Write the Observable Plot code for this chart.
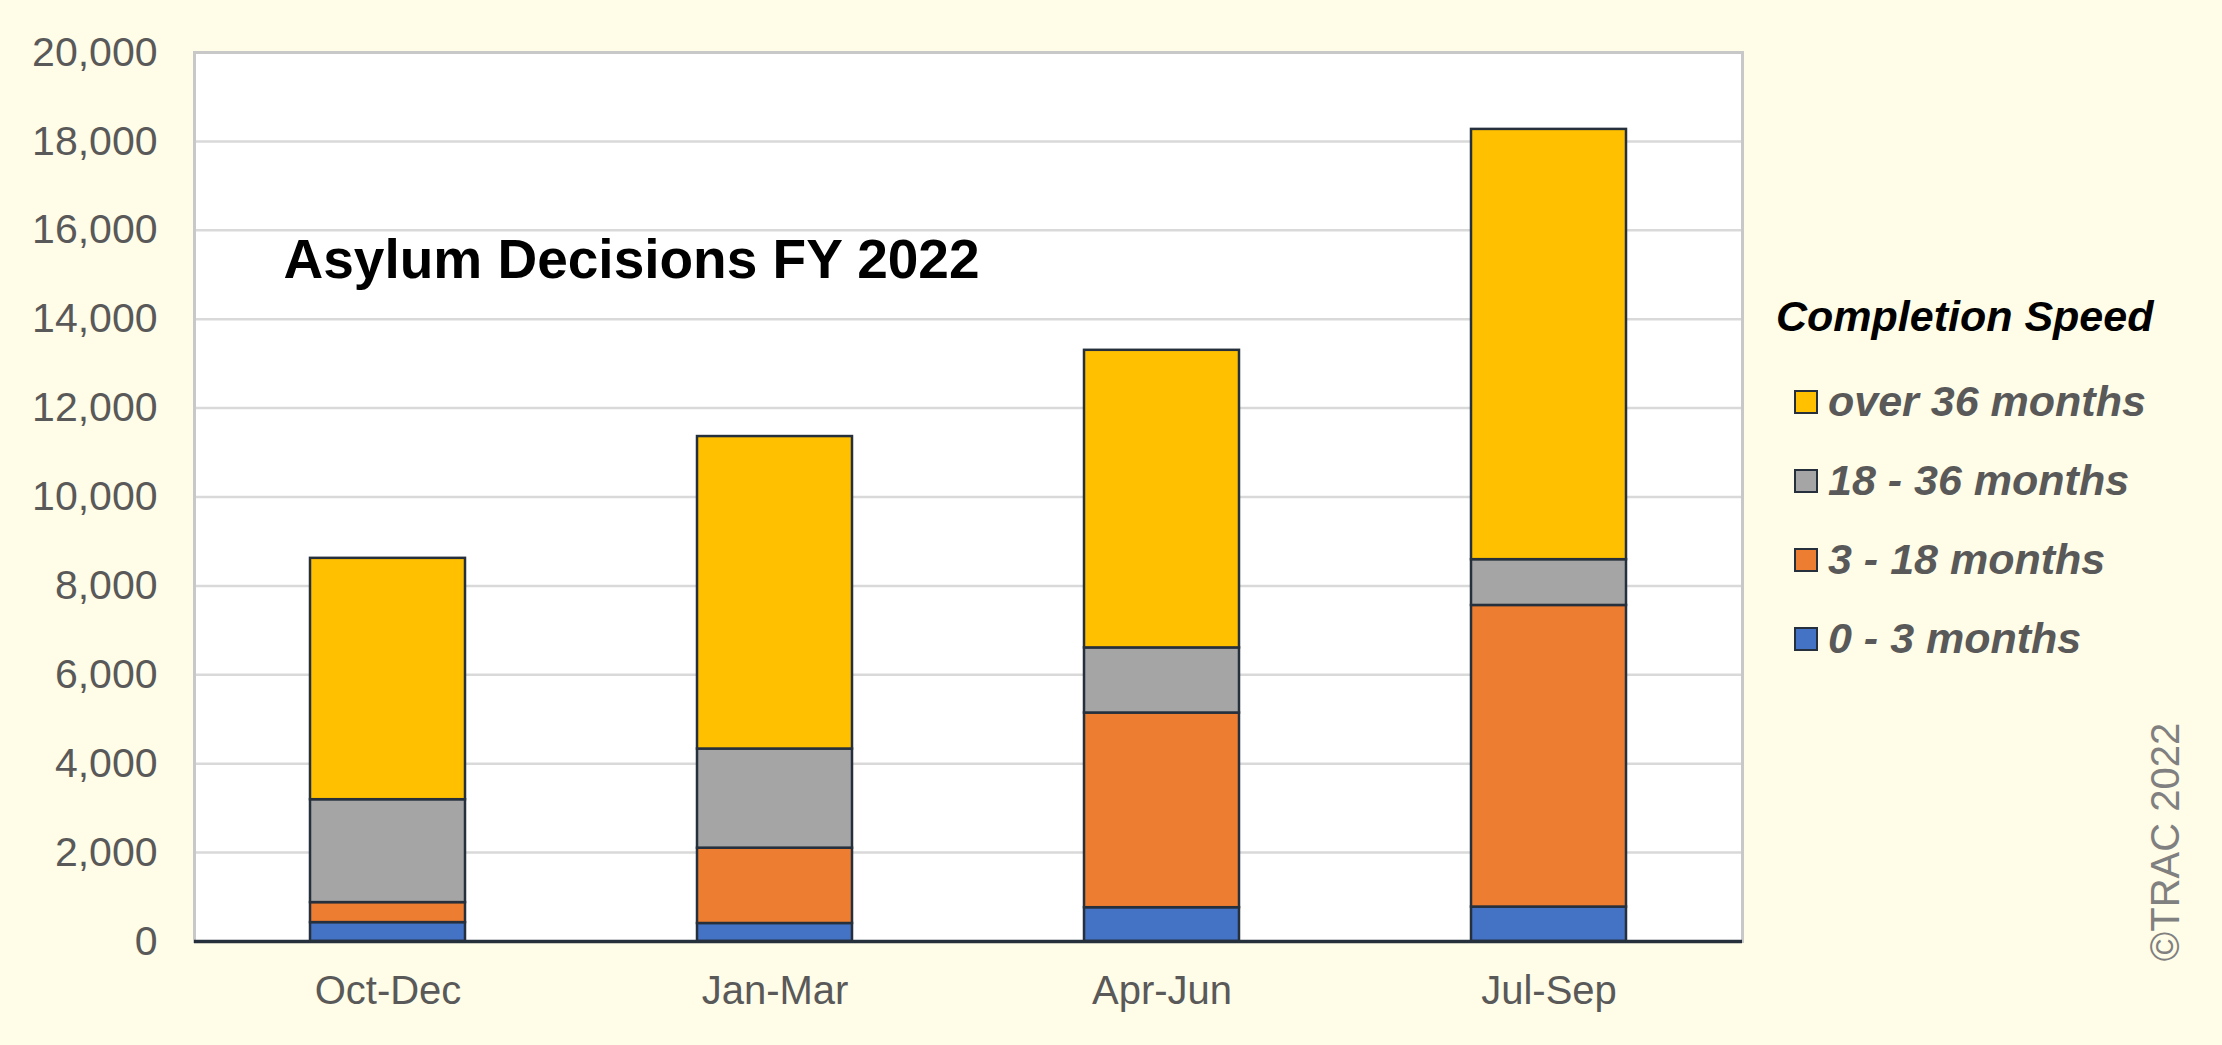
<!DOCTYPE html>
<html>
<head>
<meta charset="utf-8">
<script src="https://cdn.jsdelivr.net/npm/d3@7"></script>
<script src="https://cdn.jsdelivr.net/npm/@observablehq/plot@0.6"></script>
<style>
  html, body { margin: 0; padding: 0; background: #FFFCE7; }
  body { width: 2222px; height: 1045px; position: relative; overflow: hidden;
         font-family: "Liberation Sans", Arial, Helvetica, sans-serif; }
  #chart { position: absolute; left: 0; top: 0; }
  #legend { position: absolute; left: 1776px; top: 292px; }
  #legend .ttl { font-size: 43px; font-weight: bold; font-style: italic; color: #000; line-height: 48px; margin-bottom: 22px; }
  #legend .item { display: flex; align-items: center; height: 79px; margin-left: 18px; }
  #legend .sw { width: 20px; height: 20px; border: 2.5px solid #26303d; margin-right: 10px; flex: none; }
  #legend .lab { font-size: 43px; font-weight: bold; font-style: italic; color: #595959; }
  #copy { position: absolute; left: 2165px; top: 842px; transform: translate(-50%, -50%) rotate(-90deg);
          font-size: 40px; color: #808080; white-space: nowrap; }
</style>
</head>
<body>
<div id="chart"></div>
<div id="legend"></div>
<div id="copy">©TRAC 2022</div>
<script>
const quarters = ["Oct-Dec", "Jan-Mar", "Apr-Jun", "Jul-Sep"];
const speeds = ["0 - 3 months", "3 - 18 months", "18 - 36 months", "over 36 months"]; // bottom to top
const months0to3 = [425, 405, 760, 775];
const months3to18 = [450, 1695, 4380, 6785];
const months18to36 = [2315, 2230, 1465, 1030];
const over36 = [5430, 7030, 6695, 9680];
const speedColors = ["#4472C4", "#ED7D31", "#A5A5A5", "#FFC000"];
const yTicks = [0, 2000, 4000, 6000, 8000, 10000, 12000, 14000, 16000, 18000, 20000];
const chartTitle = "Asylum Decisions FY 2022";
const legendTitle = "Completion Speed";

const seriesValues = [months0to3, months3to18, months18to36, over36];
const data = [];
speeds.forEach((s, si) => quarters.forEach((q, qi) => data.push({quarter: q, speed: s, value: seriesValues[si][qi]})));

const font = "'Liberation Sans', Arial, Helvetica, sans-serif";
const dark = "#26303d";

const chart = Plot.plot({
  width: 2222,
  height: 1045,
  marginLeft: 194,
  marginRight: 480,
  marginTop: 52,
  marginBottom: 104,
  style: {background: "#FFFCE7", fontFamily: font, overflow: "visible"},
  x: {domain: quarters, paddingInner: 0.6, paddingOuter: 0.3, label: null},
  y: {domain: [0, 20000], label: null},
  color: {domain: speeds, range: speedColors},
  marks: [
    Plot.frame({fill: "white", stroke: "none"}),
    Plot.ruleY(yTicks.filter(d => d > 0), {stroke: "#d9d9d9", strokeWidth: 2.5}),
    Plot.frame({stroke: "#c8c8c8", strokeWidth: 3, fill: "none"}),
    Plot.barY(data, {x: "quarter", y: "value", fill: "speed", order: speeds, stroke: dark, strokeWidth: 2.5}),
    Plot.ruleY([0], {stroke: dark, strokeWidth: 3.5}),
    Plot.axisY({ticks: yTicks, tickFormat: d3.format(","), tickSize: 0, tickPadding: 37,
                fontSize: 41, fill: "#595959", label: null}),
    Plot.axisX({tickSize: 0, tickPadding: 34, fontSize: 40, fill: "#595959", label: null}),
    Plot.text([chartTitle], {frameAnchor: "top-left", text: d => d, dx: 89, dy: 225,
               lineAnchor: "bottom", fontSize: 55, fontWeight: "bold", fill: "#000"})
  ]
});
document.getElementById("chart").appendChild(chart);

// Legend (top to bottom, as in the reference)
const legend = document.getElementById("legend");
const t = document.createElement("div");
t.className = "ttl"; t.textContent = legendTitle;
legend.appendChild(t);
const colorScale = chart.scale("color");
speeds.slice().reverse().forEach(s => {
  const item = document.createElement("div"); item.className = "item";
  const sw = document.createElement("div"); sw.className = "sw";
  sw.style.background = colorScale.range[colorScale.domain.indexOf(s)];
  const lab = document.createElement("div"); lab.className = "lab"; lab.textContent = s;
  item.appendChild(sw); item.appendChild(lab);
  legend.appendChild(item);
});
</script>
</body>
</html>
